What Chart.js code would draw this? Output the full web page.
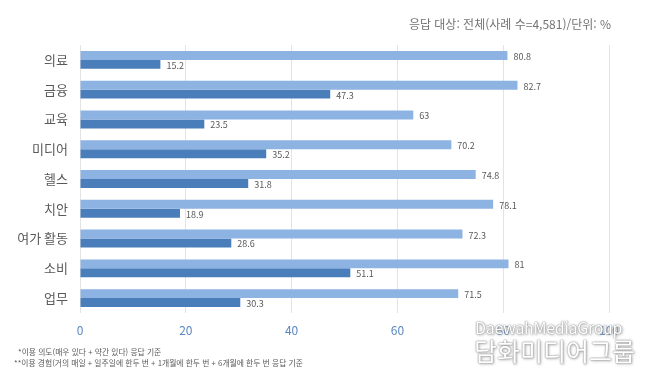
<!DOCTYPE html>
<html lang="ko">
<head>
<meta charset="utf-8">
<script src="https://cdn.jsdelivr.net/npm/chart.js@4"></script>
<style>
  html, body { margin: 0; padding: 0; background: #fff; }
  body { width: 657px; height: 382px; position: relative; overflow: hidden;
         font-family: 'Noto Sans CJK KR', 'Open Sans', sans-serif; }
  #wrap { position: absolute; left: 0; top: 0; width: 657px; height: 382px; }
  .note { position: absolute; color: #7f7f7f; white-space: nowrap; }
  #source { right: 46px; top: 15px; font-size: 12px; color: #737373; }
  #foot1 { left: 18px; top: 346px; font-size: 7.8px; color: #595959; }
  #foot2 { left: 14px; top: 357px; font-size: 7.8px; color: #595959; }
  .wm { position: absolute; color: #fff; white-space: nowrap;
        text-shadow: 0 0 1px #888, 0 0 2px #999, 1px 1px 3px #aaa; }
  #wm1 { left: 475px; top: 315px; font-size: 16px; letter-spacing: -0.3px; }
  #wm2 { left: 474px; top: 332px; font-size: 25px; letter-spacing: 0px; }
</style>
</head>
<body>
<div id="wrap"><canvas id="chart" width="657" height="382"></canvas></div>
<div class="note" id="source">응답 대상: 전체(사례 수=4,581)/단위: %</div>
<div class="note" id="foot1">*이용 의도(매우 있다 + 약간 있다) 응답 기준</div>
<div class="note" id="foot2">**이용 경험(거의 매일 + 일주일에 한두 번 + 1개월에 한두 번 + 6개월에 한두 번 응답 기준</div>
<div class="wm" id="wm1">DaewahMediaGroup</div>
<div class="wm" id="wm2">담화미디어그룹</div>
<script>
const categories = ['의료', '금융', '교육', '미디어', '헬스', '치안', '여가 활동', '소비', '업무'];
const intentValues = [80.8, 82.7, 63, 70.2, 74.8, 78.1, 72.3, 81, 71.5];   // 이용 의도*
const usageValues = [15.2, 47.3, 23.5, 35.2, 31.8, 18.9, 28.6, 51.1, 30.3]; // 이용 경험**
const xTicks = [0, 20, 40, 60, 80, 100];

const fontFamily = "'Noto Sans CJK KR', 'Open Sans', sans-serif";

// value labels next to each bar end
const barLabels = {
  id: 'barLabels',
  afterDatasetsDraw(chart) {
    const ctx = chart.ctx;
    ctx.save();
    ctx.font = '9px ' + fontFamily;
    ctx.fillStyle = '#595959';
    ctx.textAlign = 'left';
    ctx.textBaseline = 'middle';
    chart.data.datasets.forEach((ds, i) => {
      chart.getDatasetMeta(i).data.forEach((bar, j) => {
        ctx.fillText(String(ds.data[j]), bar.x + 6, bar.y + 1);
      });
    });
    ctx.restore();
  }
};

new Chart(document.getElementById('chart'), {
  type: 'bar',
  data: {
    labels: categories,
    datasets: [
      {
        label: '이용 의도',
        data: intentValues,
        backgroundColor: '#8db3e2',
        categoryPercentage: 0.6,
        barPercentage: 1.0,
      },
      {
        label: '이용 경험',
        data: usageValues,
        backgroundColor: '#4a7ebb',
        categoryPercentage: 0.6,
        barPercentage: 1.0,
      },
    ],
  },
  options: {
    indexAxis: 'y',
    responsive: false,
    animation: false,
    layout: { padding: { left: 0, right: 48, top: 45, bottom: 39 } },
    plugins: {
      legend: { display: false },
      tooltip: { enabled: false },
    },
    scales: {
      x: {
        min: 0,
        max: 100,
        afterBuildTicks: (scale) => { scale.ticks = xTicks.map(v => ({ value: v })); },
        afterFit: (scale) => { scale.height = 30; },
        grid: { color: '#e3e3e3', drawTicks: false },
        border: { display: false },
        ticks: {
          padding: 10,
          color: '#5b87c0',
          font: { size: 12, family: fontFamily },
        },
      },
      y: {
        afterFit: (scale) => { scale.width = 80; },
        grid: { display: false, drawTicks: false },
        border: { display: false },
        ticks: {
          padding: 12,
          color: '#595959',
          font: { size: 13, family: fontFamily },
        },
      },
    },
  },
  plugins: [barLabels],
});
</script>
</body>
</html>
